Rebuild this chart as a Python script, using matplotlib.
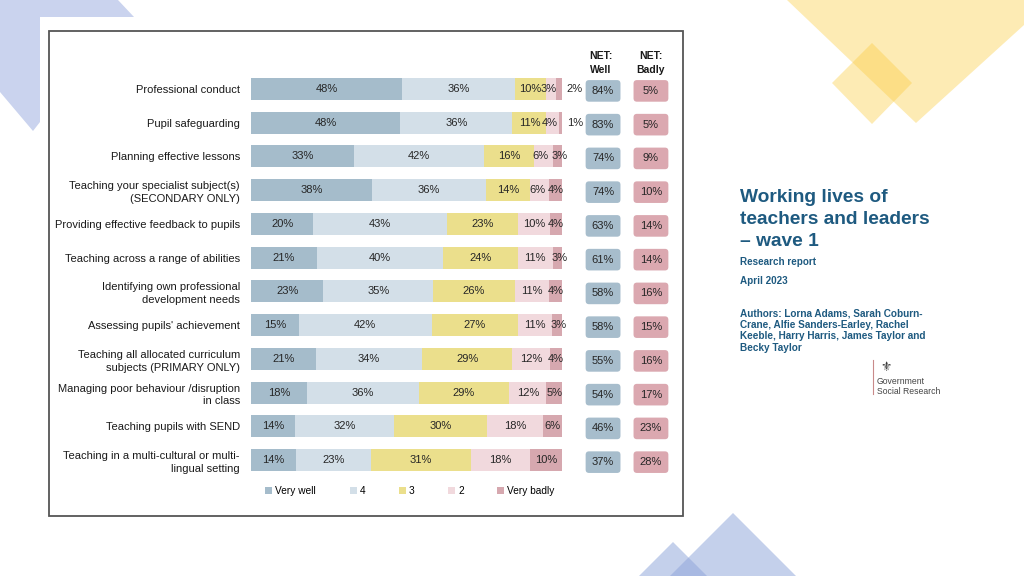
import matplotlib
matplotlib.use('Agg')
from matplotlib import pyplot as plt
from matplotlib.patches import Polygon, Rectangle, FancyBboxPatch, Patch
import numpy as np

plt.rcParams['font.family'] = ['Liberation Sans', 'DejaVu Sans']

# 数据
categories = ['Professional conduct', 'Pupil safeguarding', 'Planning effective lessons',
              'Teaching your specialist subject(s)\n(SECONDARY ONLY)',
              'Providing effective feedback to pupils', 'Teaching across a range of abilities',
              'Identifying own professional\ndevelopment needs', "Assessing pupils' achievement",
              'Teaching all allocated curriculum\nsubjects (PRIMARY ONLY)',
              'Managing poor behaviour /disruption\nin class', 'Teaching pupils with SEND',
              'Teaching in a multi-cultural or multi-\nlingual setting']
very_well = [48, 48, 33, 38, 20, 21, 23, 15, 21, 18, 14, 14]
rating_4 = [36, 36, 42, 36, 43, 40, 35, 42, 34, 36, 32, 23]
rating_3 = [10, 11, 16, 14, 23, 24, 26, 27, 29, 29, 30, 31]
rating_2 = [3, 4, 6, 6, 10, 11, 11, 11, 12, 12, 18, 18]
very_badly = [2, 1, 3, 4, 4, 3, 4, 3, 4, 5, 6, 10]
net_well = [84, 83, 74, 74, 63, 61, 58, 58, 55, 54, 46, 37]
net_badly = [5, 5, 9, 10, 14, 14, 16, 15, 16, 17, 23, 28]
legend_labels = ['Very well', '4', '3', '2', 'Very badly']

seg_colors = ['#A5BCCB', '#D3DFE8', '#EBDF8C', '#F1D9DD', '#D6A8AF']
well_box = '#A7BDCC'
badly_box = '#DBA8B0'
title_col = '#1E5A80'

W, H = 1024, 576
fig = plt.figure(figsize=(W / 100, H / 100), dpi=100)

# 背景装饰
bg = fig.add_axes([0, 0, 1, 1])
bg.set_xlim(0, W)
bg.set_ylim(H, 0)
bg.axis('off')
bg.add_patch(Polygon([(0, 0), (118, 0), (134, 17), (40, 17), (40, 122), (33, 131), (0, 92)],
                     closed=True, fc='#CAD3EE', ec='none'))
bg.add_patch(Polygon([(787, 0), (1024, 0), (1024, 25), (916, 123)], closed=True,
                     fc='#FBCB3B', alpha=0.38, ec='none'))
bg.add_patch(Polygon([(872, 43), (912, 83), (872, 124), (832, 83)], closed=True,
                     fc='#FBCB3B', alpha=0.38, ec='none'))
bg.add_patch(Polygon([(733, 513), (797, 577), (669, 577)], closed=True,
                     fc='#8FA5DA', alpha=0.52, ec='none'))
bg.add_patch(Polygon([(673, 542), (708, 577), (638, 577)], closed=True,
                     fc='#8FA5DA', alpha=0.52, ec='none'))
bg.add_patch(Rectangle((49, 31), 634, 485, fc='white', ec='#555555', lw=1.3))

# 右侧文字
for i, line in enumerate(['Working lives of', 'teachers and leaders', '\u2013 wave 1']):
    bg.text(740, 197 + i * 22, line, fontsize=13.8, fontweight='bold', color=title_col,
            va='center', ha='left')
bg.text(740, 262, 'Research report', fontsize=7.1, fontweight='bold', color=title_col, va='center')
bg.text(740, 281, 'April 2023', fontsize=7.1, fontweight='bold', color=title_col, va='center')
authors = ['Authors: Lorna Adams, Sarah Coburn-', 'Crane, Alfie Sanders-Earley, Rachel',
           'Keeble, Harry Harris, James Taylor and', 'Becky Taylor']
for i, line in enumerate(authors):
    bg.text(740, 313 + i * 11.7, line, fontsize=7.2, fontweight='bold', color=title_col, va='center')
bg.plot([873, 873], [360, 394], color='#C98A8A', lw=0.8)
bg.text(886, 368, '\u269C', fontsize=9, color='#333333', ha='center', va='center')
bg.text(877, 381, 'Government', fontsize=6.2, color='#444444', va='center')
bg.text(877, 391, 'Social Research', fontsize=6.2, color='#444444', va='center')

# 条形图 (每行按合计归一到100%)
ppu = 3.11  # 每单位像素
x0, xmax = 251, 136
top, bot = 72, 477
ax = fig.add_axes([x0 / W, (H - bot) / H, xmax * ppu / W, (bot - top) / H])
ax.patch.set_alpha(0)
n = len(categories)
y = np.arange(n)
ax.set_xlim(0, xmax)
ax.set_ylim(n - 0.5, -0.5)
for s in ax.spines.values():
    s.set_visible(False)
ax.set_xticks([])
ax.set_yticks(y)
ax.set_yticklabels(categories, fontsize=8, color='#1a1a1a', linespacing=1.35)
ax.tick_params(axis='y', length=0, pad=8)

series = [very_well, rating_4, rating_3, rating_2, very_badly]
totals = np.sum(np.array(series, dtype=float), axis=0)
left = np.zeros(n)
for k, (vals, col) in enumerate(zip(series, seg_colors)):
    vals = np.array(vals, dtype=float)
    widths = vals / totals * 100
    ax.barh(y, widths, left=left, height=0.65, color=col, lw=0)
    for yi, v, wd, l in zip(y, vals, widths, left):
        if v <= 2:
            ax.text(l + wd + 1.5, yi, f'{int(v)}%', fontsize=8, ha='left', va='center', color='#262626')
            continue
        cx = l + wd / 2
        # 小段标签稍微错开
        if k == 3 and v <= 6:
            cx -= 0.8
        if k == 4 and v <= 3:
            cx += 0.6
        ax.text(cx, yi, f'{int(v)}%', fontsize=8, ha='center', va='center', color='#262626')
    left += widths

well_x, badly_x, box_w = 113.2, 128.6, 11.2
asp = ppu / ((bot - top) / n)
for yi, wv, bv in zip(y, net_well, net_badly):
    for cx, v, fc in [(well_x, wv, well_box), (badly_x, bv, badly_box)]:
        ax.add_patch(FancyBboxPatch((cx - box_w / 2, yi + 0.06 - 0.32), box_w, 0.64,
                                    boxstyle='round,pad=0,rounding_size=1.1', mutation_aspect=asp,
                                    fc=fc, ec='none', clip_on=False))
        ax.text(cx, yi + 0.06, f'{v}%', fontsize=8, ha='center', va='center', color='#262626')
ax.text(well_x - 0.8, -0.77, 'NET:\nWell', fontsize=7.5, fontweight='bold', ha='center', va='center',
        linespacing=1.5, color='#1a1a1a')
ax.text(badly_x, -0.77, 'NET:\nBadly', fontsize=7.5, fontweight='bold', ha='center', va='center',
        linespacing=1.5, color='#1a1a1a')

handles = [Patch(fc=c, ec='none') for c in seg_colors]
ax.legend(handles, legend_labels, loc='center', bbox_to_anchor=((410 - x0) / (xmax * ppu), -0.035),
          ncol=5, frameon=False, fontsize=7.3, handlelength=0.7, handleheight=0.7, handletextpad=0.3,
          columnspacing=3.3)

fig.savefig('out.png', dpi=100)
